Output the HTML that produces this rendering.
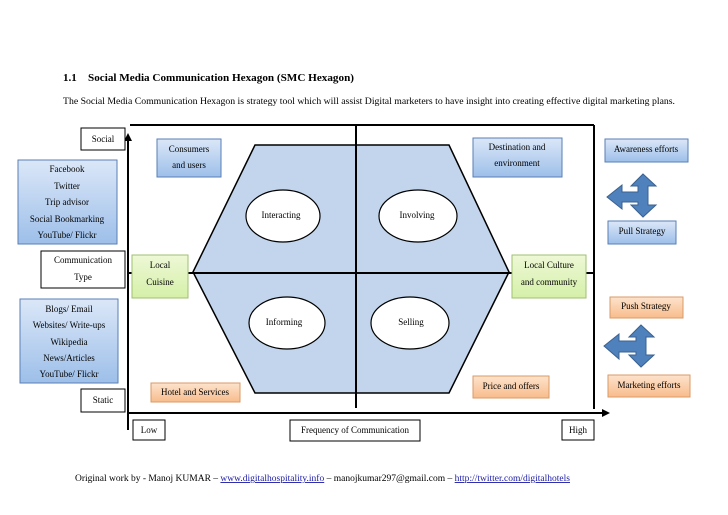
<!DOCTYPE html>
<html><head><meta charset="utf-8"><style>
html,body{margin:0;padding:0;background:#fff;}
svg{display:block;font-family:"Liberation Serif",serif;}
</style></head><body>
<svg width="728" height="515" viewBox="0 0 728 515" xmlns="http://www.w3.org/2000/svg">
<defs>
<linearGradient id="bl" x1="0" y1="0" x2="0" y2="1"><stop offset="0" stop-color="#dbe7f8"/><stop offset="1" stop-color="#9dbfe9"/></linearGradient>
<linearGradient id="gr" x1="0" y1="0" x2="0" y2="1"><stop offset="0" stop-color="#eef8d6"/><stop offset="1" stop-color="#d5f0a8"/></linearGradient>
<linearGradient id="or" x1="0" y1="0" x2="0" y2="1"><stop offset="0" stop-color="#fde3cc"/><stop offset="1" stop-color="#f8bc8c"/></linearGradient>
</defs>
<text x="63" y="81" font-size="11" font-weight="bold">1.1</text>
<text x="88" y="81" font-size="11" font-weight="bold" textLength="266" lengthAdjust="spacingAndGlyphs">Social Media Communication Hexagon (SMC Hexagon)</text>
<text x="63" y="104" font-size="9.5" textLength="612" lengthAdjust="spacingAndGlyphs">The Social Media Communication Hexagon is strategy tool which will assist Digital marketers to have insight into creating effective digital marketing plans.</text>

<polygon points="193,272 255,145 449,145 509,272 449,393 255,393" fill="#c2d5ec" stroke="#000" stroke-width="1.5"/>
<line x1="130" y1="125" x2="594" y2="125" stroke="#000" stroke-width="2"/>
<line x1="594" y1="125" x2="594" y2="409" stroke="#000" stroke-width="2"/>
<line x1="128" y1="413" x2="604" y2="413" stroke="#000" stroke-width="2"/>
<polygon points="610,413 602,409 602,417" fill="#000"/>
<line x1="128" y1="140" x2="128" y2="430" stroke="#000" stroke-width="2"/>
<polygon points="128,133 124,141 132,141" fill="#000"/>
<line x1="128" y1="273" x2="594" y2="273" stroke="#000" stroke-width="2"/>
<line x1="356" y1="125" x2="356" y2="408" stroke="#000" stroke-width="2"/>

<g fill="#fff" stroke="#000" stroke-width="1.2">
<ellipse cx="283" cy="216" rx="37" ry="26"/>
<ellipse cx="418" cy="216" rx="39" ry="26"/>
<ellipse cx="287" cy="323" rx="38" ry="26"/>
<ellipse cx="410" cy="323" rx="39" ry="26"/>
</g>
<g font-size="9" text-anchor="middle">
<text x="281" y="218">Interacting</text>
<text x="417" y="218">Involving</text>
<text x="284" y="325">Informing</text>
<text x="411" y="325">Selling</text>
</g>

<g fill="#fff" stroke="#000" stroke-width="1">
<rect x="81" y="128" width="44" height="22"/>
<rect x="41" y="251" width="84" height="37"/>
<rect x="81" y="389" width="44" height="23"/>
<rect x="133" y="420" width="32" height="20"/>
<rect x="290" y="420" width="130" height="21"/>
<rect x="562" y="420" width="32" height="20"/>
</g>
<g fill="url(#bl)" stroke="#5a7fb5" stroke-width="1">
<rect x="18" y="160" width="99" height="84"/>
<rect x="20" y="299" width="98" height="84"/>
<rect x="157" y="139" width="64" height="38"/>
<rect x="473" y="138" width="89" height="39"/>
<rect x="605" y="139" width="83" height="23"/>
<rect x="608" y="221" width="68" height="23"/>
</g>
<g fill="url(#gr)" stroke="#9fc070" stroke-width="1">
<rect x="132" y="255" width="56" height="43"/>
<rect x="512" y="255" width="74" height="43"/>
</g>
<g fill="url(#or)" stroke="#d99a66" stroke-width="1">
<rect x="151" y="383" width="89" height="19"/>
<rect x="473" y="376" width="76" height="22"/>
<rect x="610" y="297" width="73" height="21"/>
<rect x="608" y="375" width="82" height="22"/>
</g>

<path d="M643,174 L656,186 L648,186 L648,205 L656,205 L643,217 L631,205 L638,205 L638,202 L622,202 L622,209 L607,197 L622,185 L622,192 L638,192 L638,186 L631,186 Z" fill="#4f81bd" stroke="#3a6190" stroke-width="1"/>
<path d="M641,325 L654,337 L646,337 L646,355 L654,355 L641,367 L629,355 L636,355 L636,352 L619,352 L619,359 L604,346 L619,334 L619,341 L636,341 L636,337 L629,337 Z" fill="#4f81bd" stroke="#3a6190" stroke-width="1"/>

<g font-size="9" text-anchor="middle">
<text x="103" y="142">Social</text>
<text x="67" y="172">Facebook</text>
<text x="67" y="189">Twitter</text>
<text x="67" y="205">Trip advisor</text>
<text x="67" y="222">Social Bookmarking</text>
<text x="67" y="238">YouTube/ Flickr</text>
<text x="83" y="263">Communication</text>
<text x="83" y="280">Type</text>
<text x="69" y="312">Blogs/ Email</text>
<text x="69" y="328">Websites/ Write-ups</text>
<text x="69" y="345">Wikipedia</text>
<text x="69" y="361">News/Articles</text>
<text x="69" y="377">YouTube/ Flickr</text>
<text x="103" y="403">Static</text>
<text x="149" y="433">Low</text>
<text x="355" y="433">Frequency of Communication</text>
<text x="578" y="433">High</text>
<text x="189" y="152">Consumers</text>
<text x="189" y="168">and users</text>
<text x="160" y="268">Local</text>
<text x="160" y="285">Cuisine</text>
<text x="195" y="395">Hotel and Services</text>
<text x="517" y="150">Destination and</text>
<text x="517" y="166">environment</text>
<text x="646" y="152">Awareness efforts</text>
<text x="642" y="234">Pull Strategy</text>
<text x="549" y="268">Local Culture</text>
<text x="549" y="285">and community</text>
<text x="646" y="309">Push Strategy</text>
<text x="511" y="389">Price and offers</text>
<text x="649" y="388">Marketing efforts</text>
</g>

<text x="75" y="481" font-size="9" textLength="495" lengthAdjust="spacingAndGlyphs">Original work by - Manoj KUMAR – <tspan fill="#1a1aa6" text-decoration="underline">www.digitalhospitality.info</tspan> – manojkumar297@gmail.com – <tspan fill="#1a1aa6" text-decoration="underline">http://twitter.com/digitalhotels</tspan></text>
</svg>
</body></html>
